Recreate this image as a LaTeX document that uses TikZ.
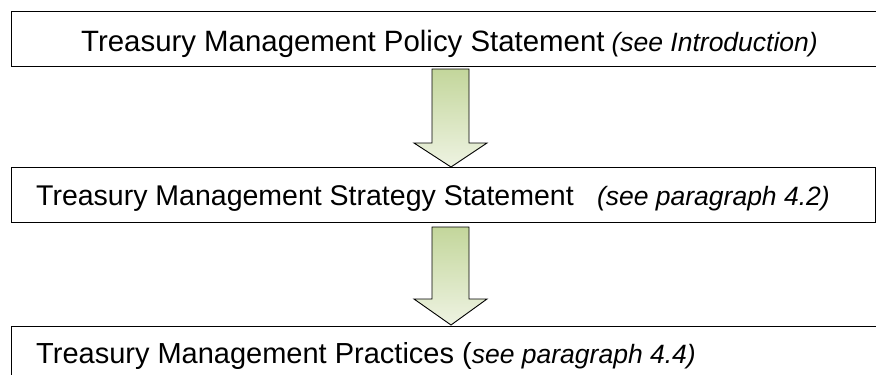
\documentclass[tikz,border=0pt]{standalone}
\usepackage{fontspec}
\setmainfont{Liberation Sans}
\definecolor{arrtop}{HTML}{C3D69B}
\definecolor{arrbot}{HTML}{EEF3E2}
\begin{document}
\begin{tikzpicture}[x=1pt,y=-1pt,
  box/.style={draw=black, line width=1.3pt, inner sep=0pt, anchor=north west},
  txt/.style={inner sep=0pt, anchor=base west, font=\fontsize{29}{33}\selectfont},
  itxt/.style={inner sep=0pt, anchor=base east, font=\fontsize{26.5}{30}\selectfont\itshape},
  blockarrow/.style={draw=black, line width=0.9pt, top color=arrtop, bottom color=arrbot}]
\useasboundingbox (0,0) rectangle (876,375);
\clip (0,0) rectangle (876,375);
\node[box, minimum width=875pt, minimum height=55pt] (policy) at (11,11) {};
\node[box, minimum width=864pt, minimum height=55pt] (strategy) at (11,167) {};
\node[box, minimum width=875pt, minimum height=60pt] (practices) at (11,326) {};
\node[txt, font=\fontsize{29.4}{33}\selectfont] (t1) at (81,51) {Treasury Management Policy Statement};
\node[itxt] (i1) at (818,51) {(see Introduction)};
\node[txt, font=\fontsize{28.5}{33}\selectfont] (t2) at (36,205) {Treasury Management Strategy Statement};
\node[itxt] (i2) at (830,205) {(see paragraph 4.2)};
\node[txt] (t3) at (36,363) {Treasury Management Practices ({\fontsize{26.5}{30}\selectfont\itshape see paragraph 4.4)}};
\path[blockarrow] (432,69) -- (469,69) -- (469,143) -- (487,143) -- (451,167) -- (414,143) -- (432,143) -- cycle;
\path[blockarrow] (432,227) -- (469,227) -- (469,299) -- (487,299) -- (451,325) -- (414,299) -- (432,299) -- cycle;
\end{tikzpicture}
\end{document}
